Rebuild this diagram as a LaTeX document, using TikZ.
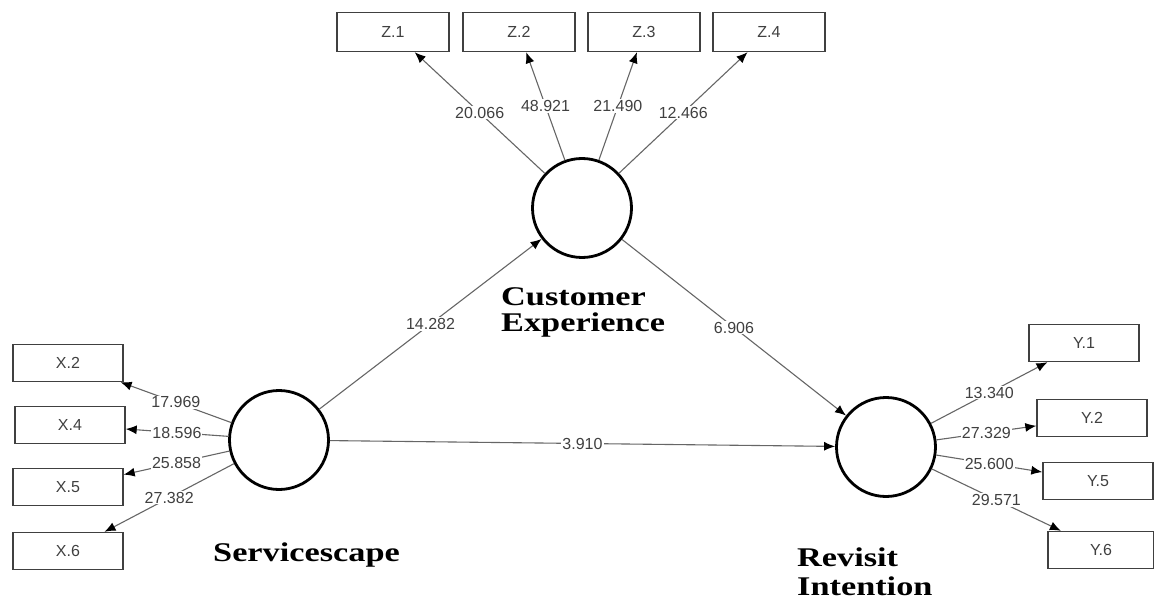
\documentclass[tikz,border=0pt]{standalone}
\usepackage{fontspec}
\setmainfont{Liberation Serif}
\newfontfamily\plsfont{Liberation Sans}
\newfontfamily\latfont[FakeStretch=1.27]{Liberation Serif}
\usetikzlibrary{arrows.meta}

\begin{document}
\begin{tikzpicture}[x=1pt,y=1pt,
  latent/.style={circle,draw,line width=2.8pt,minimum size=99pt,inner sep=0pt},
  indicator/.style={rectangle,draw=black!75,line width=1.4pt,minimum width=110pt,minimum height=37pt,inner sep=0pt,font=\plsfont\fontsize{16}{18}\selectfont,text=black!75},
  pathline/.style={draw=black!60,line width=1.1pt,-{Latex[color=black,length=11pt,width=9pt]}},
  coef/.style={fill=white,inner sep=1pt,font=\plsfont\fontsize{16}{18}\selectfont,text=black!75},
  construct/.style={font=\latfont\bfseries\fontsize{27}{26}\selectfont,align=left,inner sep=0pt,anchor=north west}]
   \useasboundingbox (0,0) rectangle (1154,-604);
   % latent variables
   \node[latent] (serv) at (279,-440) {};
   \node[latent] (cexp) at (582,-208) {};
   \node[latent] (rint) at (886,-447) {};
   \node[construct] (cexptext) at (501,-287) {Customer\\Experience};
   \node[construct] (servtext) at (213,-543) {Servicescape};
   \node[construct,font=\latfont\bfseries\fontsize{27}{29}\selectfont] (rinttext) at (797,-548) {Revisit\\Intention};
   % indicators
   \node[indicator,minimum width=112pt,minimum height=39pt] (z1) at (393,-32) {Z.1};
   \node[indicator,minimum width=112pt,minimum height=39pt] (z2) at (519,-32) {Z.2};
   \node[indicator,minimum width=112pt,minimum height=39pt] (z3) at (644,-32) {Z.3};
   \node[indicator,minimum width=112pt,minimum height=39pt] (z4) at (769,-32) {Z.4};
   \node[indicator] (x2) at (68,-363) {X.2};
   \node[indicator] (x4) at (70,-425) {X.4};
   \node[indicator] (x5) at (68,-487) {X.5};
   \node[indicator] (x6) at (68,-551) {X.6};
   \node[indicator] (y1) at (1084,-343) {Y.1};
   \node[indicator] (y2) at (1092,-418) {Y.2};
   \node[indicator] (y5) at (1098,-481) {Y.5};
   \node[indicator,minimum width=106pt] (y6) at (1101,-550) {Y.6};
   % structural paths
   \draw[pathline] (serv) -- node[coef] {14.282} (cexp);
   \draw[pathline] (cexp) -- node[coef] {6.906} (rint);
   \draw[pathline] (serv) -- node[coef] {3.910} (rint);
   % outer loadings
   \draw[pathline] (cexp) -- node[coef] {20.066} (z1);
   \draw[pathline] (cexp) -- node[coef] {48.921} (z2);
   \draw[pathline] (cexp) -- node[coef] {21.490} (z3);
   \draw[pathline] (cexp) -- node[coef] {12.466} (z4);
   \draw[pathline] (serv) -- node[coef] {17.969} (x2);
   \draw[pathline] (serv) -- node[coef] {18.596} (x4);
   \draw[pathline] (serv) -- node[coef] {25.858} (x5);
   \draw[pathline] (serv) -- node[coef] {27.382} (x6);
   \draw[pathline] (rint) -- node[coef] {13.340} (y1);
   \draw[pathline] (rint) -- node[coef] {27.329} (y2);
   \draw[pathline] (rint) -- node[coef] {25.600} (y5);
   \draw[pathline] (rint) -- node[coef] {29.571} (y6);
\end{tikzpicture}
\end{document}
